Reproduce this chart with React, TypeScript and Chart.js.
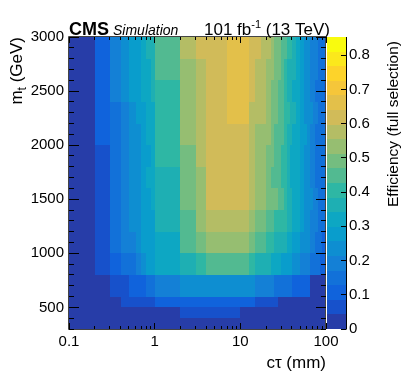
import React, { useEffect, useRef } from 'react';
import { Chart, registerables } from 'chart.js';

Chart.register(...registerables);

const FONT = '"Liberation Sans", Arial, Helvetica, sans-serif';

// ---- binning ----
const ctEdges = [0.1, 0.2, 0.3, 0.4, 0.5, 0.6, 0.7, 0.8, 0.9, 1, 2, 3, 4, 5, 6, 7, 8, 9, 10,
  12.5, 15, 17.5, 20, 22.5, 25, 27.5, 30, 32.5, 35, 37.5, 40, 45, 50, 55, 60, 65, 70, 75, 80, 85, 90, 95, 100];
const massEdges = [300, 400, 500, 600, 800, 1000, 1200, 1400, 1600, 1800, 2000, 2200, 2400, 2600, 2800, 3000];

// ---- ticks ----
const xTickValues = [0.1, 1, 10, 100];
const xTickLabels = ['0.1', '1', '10', '100'];
const xMinorValues = [0.2, 0.3, 0.4, 0.5, 0.6, 0.7, 0.8, 0.9, 2, 3, 4, 5, 6, 7, 8, 9, 20, 30, 40, 50, 60, 70, 80, 90];
const yTickValues = [500, 1000, 1500, 2000, 2500, 3000];
const yTickLabels = ['500', '1000', '1500', '2000', '2500', '3000'];
const zTickValues = [0, 0.1, 0.2, 0.3, 0.4, 0.5, 0.6, 0.7, 0.8];
const zTickLabels = ['0', '0.1', '0.2', '0.3', '0.4', '0.5', '0.6', '0.7', '0.8'];
const zMax = 0.853;
const nContours = 20;

// ---- efficiency per mass row (lower bin edge), one value per cτ bin ----
const eff_m300 = [
  0.01, 0.01, 0.01, 0.01, 0.01, 0.01, 0.01, 0.01, 0.01,
  0.01, 0.01, 0.01, 0.01, 0.01, 0.01, 0.01, 0.01, 0.01,
  0.01, 0.01, 0.01, 0.01, 0.01, 0.01, 0.01, 0.01, 0.01, 0.01, 0.01, 0.01, 0.01, 0.01, 0.01, 0.01, 0.01, 0.01, 0.01, 0.01, 0.01, 0.01, 0.01, 0.01];
const eff_m400 = [
  0.02, 0.02, 0.02, 0.02, 0.02, 0.02, 0.02, 0.02, 0.02,
  0.02, 0.06, 0.06, 0.06, 0.06, 0.06, 0.06, 0.06, 0.06,
  0.02, 0.02, 0.02, 0.02, 0.02, 0.02, 0.02, 0.02, 0.02, 0.02, 0.02, 0.02, 0.02, 0.02, 0.02, 0.02, 0.02, 0.02, 0.02, 0.02, 0.02, 0.02, 0.02, 0.02];
const eff_m500 = [
  0.02, 0.02, 0.02, 0.06, 0.06, 0.06, 0.06, 0.06, 0.06,
  0.11, 0.11, 0.11, 0.11, 0.11, 0.11, 0.11, 0.11, 0.11,
  0.11, 0.11, 0.06, 0.06, 0.06, 0.06, 0.06, 0.02, 0.02, 0.02, 0.02, 0.02, 0.02, 0.02, 0.02, 0.02, 0.02, 0.02, 0.02, 0.02, 0.02, 0.02, 0.02, 0.02];
const eff_m600 = [
  0.02, 0.02, 0.06, 0.06, 0.11, 0.11, 0.11, 0.15, 0.15,
  0.19, 0.23, 0.23, 0.23, 0.23, 0.23, 0.23, 0.23, 0.23,
  0.23, 0.23, 0.19, 0.19, 0.19, 0.19, 0.15, 0.15, 0.15, 0.15, 0.15, 0.15, 0.11, 0.11, 0.11, 0.11, 0.11, 0.02, 0.02, 0.02, 0.02, 0.02, 0.02, 0.02];
const eff_m800 = [
  0.02, 0.06, 0.11, 0.15, 0.15, 0.19, 0.23, 0.28, 0.28,
  0.32, 0.36, 0.40, 0.45, 0.45, 0.45, 0.45, 0.45, 0.45,
  0.45, 0.40, 0.36, 0.36, 0.36, 0.32, 0.32, 0.32, 0.28, 0.28, 0.28, 0.28, 0.23, 0.23, 0.19, 0.19, 0.19, 0.15, 0.15, 0.15, 0.15, 0.11, 0.11, 0.11];
const eff_m1000 = [
  0.02, 0.06, 0.15, 0.19, 0.19, 0.23, 0.28, 0.28, 0.28,
  0.32, 0.45, 0.49, 0.53, 0.53, 0.53, 0.53, 0.53, 0.53,
  0.53, 0.49, 0.45, 0.45, 0.40, 0.40, 0.36, 0.36, 0.36, 0.36, 0.32, 0.32, 0.28, 0.28, 0.23, 0.23, 0.23, 0.19, 0.19, 0.15, 0.15, 0.15, 0.11, 0.11];
const eff_m1200 = [
  0.02, 0.06, 0.15, 0.19, 0.23, 0.23, 0.28, 0.28, 0.28,
  0.36, 0.45, 0.53, 0.58, 0.58, 0.58, 0.58, 0.58, 0.58,
  0.58, 0.53, 0.49, 0.49, 0.45, 0.45, 0.40, 0.40, 0.40, 0.40, 0.36, 0.36, 0.32, 0.32, 0.28, 0.23, 0.23, 0.19, 0.19, 0.19, 0.15, 0.15, 0.15, 0.15];
const eff_m1400 = [
  0.02, 0.06, 0.15, 0.19, 0.23, 0.23, 0.28, 0.28, 0.32,
  0.36, 0.49, 0.53, 0.62, 0.62, 0.62, 0.62, 0.62, 0.62,
  0.62, 0.58, 0.53, 0.53, 0.49, 0.49, 0.49, 0.45, 0.45, 0.40, 0.36, 0.36, 0.32, 0.32, 0.28, 0.23, 0.23, 0.23, 0.19, 0.19, 0.15, 0.15, 0.15, 0.15];
const eff_m1600 = [
  0.02, 0.06, 0.15, 0.19, 0.23, 0.23, 0.28, 0.32, 0.32,
  0.36, 0.49, 0.53, 0.62, 0.62, 0.62, 0.62, 0.62, 0.62,
  0.62, 0.58, 0.53, 0.53, 0.49, 0.45, 0.45, 0.45, 0.40, 0.40, 0.36, 0.32, 0.32, 0.32, 0.28, 0.23, 0.23, 0.19, 0.19, 0.15, 0.15, 0.15, 0.15, 0.15];
const eff_m1800 = [
  0.02, 0.06, 0.15, 0.19, 0.23, 0.23, 0.28, 0.28, 0.32,
  0.40, 0.49, 0.58, 0.62, 0.62, 0.62, 0.62, 0.62, 0.62,
  0.62, 0.58, 0.53, 0.53, 0.49, 0.49, 0.45, 0.45, 0.40, 0.40, 0.36, 0.32, 0.32, 0.32, 0.28, 0.23, 0.23, 0.19, 0.19, 0.15, 0.15, 0.15, 0.15, 0.15];
const eff_m2000 = [
  0.02, 0.11, 0.15, 0.19, 0.23, 0.23, 0.28, 0.32, 0.32,
  0.40, 0.53, 0.58, 0.62, 0.62, 0.62, 0.62, 0.62, 0.62,
  0.62, 0.58, 0.53, 0.53, 0.53, 0.49, 0.45, 0.45, 0.45, 0.40, 0.36, 0.36, 0.32, 0.32, 0.28, 0.28, 0.23, 0.19, 0.19, 0.15, 0.15, 0.15, 0.15, 0.15];
const eff_m2200 = [
  0.02, 0.11, 0.15, 0.19, 0.23, 0.28, 0.28, 0.32, 0.32,
  0.40, 0.53, 0.58, 0.62, 0.62, 0.62, 0.66, 0.66, 0.66,
  0.66, 0.58, 0.58, 0.58, 0.53, 0.49, 0.49, 0.45, 0.45, 0.40, 0.40, 0.36, 0.36, 0.32, 0.28, 0.23, 0.23, 0.23, 0.19, 0.19, 0.15, 0.15, 0.15, 0.15];
const eff_m2400 = [
  0.02, 0.11, 0.19, 0.23, 0.28, 0.28, 0.32, 0.32, 0.36,
  0.40, 0.53, 0.58, 0.62, 0.62, 0.62, 0.66, 0.66, 0.66,
  0.66, 0.62, 0.58, 0.58, 0.53, 0.49, 0.49, 0.45, 0.45, 0.40, 0.36, 0.36, 0.32, 0.32, 0.28, 0.23, 0.23, 0.19, 0.19, 0.15, 0.15, 0.15, 0.15, 0.11];
const eff_m2600 = [
  0.02, 0.11, 0.19, 0.23, 0.28, 0.28, 0.32, 0.32, 0.36,
  0.45, 0.53, 0.58, 0.62, 0.62, 0.62, 0.66, 0.66, 0.66,
  0.66, 0.62, 0.58, 0.58, 0.53, 0.53, 0.49, 0.49, 0.45, 0.40, 0.36, 0.36, 0.36, 0.32, 0.28, 0.23, 0.23, 0.19, 0.19, 0.19, 0.15, 0.15, 0.15, 0.15];
const eff_m2800 = [
  0.02, 0.11, 0.19, 0.23, 0.28, 0.28, 0.32, 0.36, 0.36,
  0.45, 0.58, 0.62, 0.62, 0.62, 0.62, 0.66, 0.66, 0.66,
  0.66, 0.62, 0.62, 0.58, 0.58, 0.53, 0.49, 0.49, 0.45, 0.45, 0.40, 0.40, 0.36, 0.32, 0.28, 0.23, 0.23, 0.19, 0.19, 0.19, 0.15, 0.15, 0.15, 0.15];

const effRows = [eff_m300, eff_m400, eff_m500, eff_m600, eff_m800, eff_m1000, eff_m1200, eff_m1400,
  eff_m1600, eff_m1800, eff_m2000, eff_m2200, eff_m2400, eff_m2600, eff_m2800];

// ---- ROOT kBird palette ----
const birdStops = [0, 0.125, 0.25, 0.375, 0.5, 0.625, 0.75, 0.875, 1];
const birdR = [0.2082, 0.0592, 0.0780, 0.0232, 0.1802, 0.5301, 0.8186, 0.9956, 0.9764];
const birdG = [0.1664, 0.3599, 0.5041, 0.6419, 0.7178, 0.7492, 0.7328, 0.7862, 0.9832];
const birdB = [0.5293, 0.8684, 0.8385, 0.7914, 0.6425, 0.4662, 0.3499, 0.1968, 0.0539];

function birdColor(f: number): string {
  f = Math.max(0, Math.min(1, f));
  let k = 1;
  while (k < birdStops.length - 1 && f > birdStops[k]) k++;
  const t = (f - birdStops[k - 1]) / (birdStops[k] - birdStops[k - 1]);
  const r = Math.round(255 * (birdR[k - 1] + t * (birdR[k] - birdR[k - 1])));
  const g = Math.round(255 * (birdG[k - 1] + t * (birdG[k] - birdG[k - 1])));
  const b = Math.round(255 * (birdB[k - 1] + t * (birdB[k] - birdB[k - 1])));
  return `rgb(${r},${g},${b})`;
}
function levelColor(level: number): string {
  const idx = Math.floor((level + 0.99) * 255 / nContours);
  return birdColor(idx / 254);
}
function valueColor(v: number): string {
  let l = Math.floor(0.01 + v * nContours / zMax);
  l = Math.max(0, Math.min(nContours - 1, l));
  return levelColor(l);
}

const heatPlugin = {
  id: 'heatmap',
  beforeDatasetsDraw(chart: any) {
    const { ctx } = chart;
    const xs = chart.scales.x;
    const ys = chart.scales.y;
    ctx.save();
    effRows.forEach((row, j) => {
      const yTop = Math.round(ys.getPixelForValue(massEdges[j + 1]));
      const yBot = Math.round(ys.getPixelForValue(massEdges[j]));
      row.forEach((v, i) => {
        const xL = Math.round(xs.getPixelForValue(ctEdges[i]));
        const xR = Math.round(xs.getPixelForValue(ctEdges[i + 1]));
        ctx.fillStyle = valueColor(v);
        ctx.fillRect(xL, yTop, xR - xL, yBot - yTop);
      });
    });
    ctx.restore();
  },
  afterDraw(chart: any) {
    const { ctx, chartArea } = chart;
    const xs = chart.scales.x;
    const ys = chart.scales.y;
    const zs = chart.scales.z;
    const L = chartArea.left, R = chartArea.right, T = chartArea.top, B = chartArea.bottom;
    ctx.save();

    // colour bar
    const cbL = R + 1, cbW = 19;
    for (let k = 0; k < nContours; k++) {
      const y0 = Math.round(zs.getPixelForValue((k + 1) * zMax / nContours));
      const y1 = Math.round(zs.getPixelForValue(k * zMax / nContours));
      ctx.fillStyle = levelColor(k);
      ctx.fillRect(cbL, y0, cbW, y1 - y0);
    }
    ctx.strokeStyle = '#000';
    ctx.lineWidth = 1;
    ctx.beginPath();
    ctx.moveTo(cbL + cbW + 0.5, T);
    ctx.lineTo(cbL + cbW + 0.5, B);
    zTickValues.forEach((v) => {
      const py = Math.floor(zs.getPixelForValue(v)) + 0.5;
      ctx.moveTo(cbL + cbW - 5, py);
      ctx.lineTo(cbL + cbW + 0.5, py);
    });
    ctx.stroke();

    // frame
    ctx.strokeStyle = '#444';
    ctx.beginPath();
    ctx.rect(L - 0.5, T - 0.5, R - L, B - T + 1);
    ctx.stroke();

    // ticks
    ctx.strokeStyle = '#000';
    ctx.beginPath();
    const xTick = (v: number, len: number) => {
      const px = Math.floor(xs.getPixelForValue(v)) + 0.5;
      ctx.moveTo(px, B); ctx.lineTo(px, B - len);
      ctx.moveTo(px, T); ctx.lineTo(px, T + len);
    };
    xMinorValues.forEach((v) => xTick(v, 3));
    xTickValues.forEach((v) => xTick(v, 6));
    for (let m = 300; m <= 3000; m += 100) {
      const len = m % 500 === 0 ? 10 : 5;
      const py = Math.floor(ys.getPixelForValue(m)) + 0.5;
      ctx.moveTo(L, py); ctx.lineTo(L + len, py);
      ctx.moveTo(R, py); ctx.lineTo(R - len, py);
    }
    ctx.stroke();

    ctx.fillStyle = '#000';
    ctx.textBaseline = 'alphabetic';
    // CMS Simulation
    ctx.textAlign = 'left';
    ctx.font = `bold 18px ${FONT}`;
    ctx.fillText('CMS', L, 35);
    const wCMS = ctx.measureText('CMS').width;
    ctx.font = `italic 14px ${FONT}`;
    ctx.fillText('Simulation', L + wCMS + 4, 35);

    // lumi text
    ctx.font = `17px ${FONT}`;
    const t1 = '101 fb', t3 = ' (13 TeV)';
    const w1 = ctx.measureText(t1).width;
    const w3 = ctx.measureText(t3).width;
    ctx.font = `11px ${FONT}`;
    const t2 = '-1';
    const w2 = ctx.measureText(t2).width;
    const xEnd = 330;
    const xs0 = xEnd - (w1 + w2 + w3);
    ctx.font = `17px ${FONT}`;
    ctx.fillText(t1, xs0, 35);
    ctx.font = `11px ${FONT}`;
    ctx.fillText(t2, xs0 + w1, 28);
    ctx.font = `17px ${FONT}`;
    ctx.fillText(t3, xs0 + w1 + w2, 35);

    // y title m_t (GeV)
    ctx.save();
    ctx.translate(22, T);
    ctx.rotate(-Math.PI / 2);
    ctx.font = `17px ${FONT}`;
    const wm = ctx.measureText('m').width;
    const wg = ctx.measureText(' (GeV)').width;
    ctx.font = `12px ${FONT}`;
    const wt = ctx.measureText('t').width;
    const x0 = -(wm + wt + wg);
    ctx.font = `17px ${FONT}`;
    ctx.fillText('m', x0, 0);
    ctx.font = `12px ${FONT}`;
    ctx.fillText('t', x0 + wm, 4);
    ctx.font = `17px ${FONT}`;
    ctx.fillText(' (GeV)', x0 + wm + wt, 0);
    ctx.restore();

    // colour bar title
    ctx.save();
    ctx.translate(398, 41);
    ctx.rotate(-Math.PI / 2);
    ctx.textAlign = 'right';
    ctx.font = `15.5px ${FONT}`;
    ctx.fillText('Efficiency (full selection)', 0, 0);
    ctx.restore();

    ctx.restore();
  },
};

export default function App() {
  const ref = useRef<HTMLCanvasElement>(null);
  useEffect(() => {
    document.body.style.margin = '0';
    const canvas = ref.current;
    if (!canvas) return;
    const tickFont = { family: FONT, size: 15 };
    const chart = new Chart(canvas, {
      type: 'scatter',
      data: { datasets: [{ data: [], xAxisID: 'x', yAxisID: 'y' }] },
      options: {
        animation: false,
        responsive: false,
        devicePixelRatio: 1,
        layout: { padding: { top: 37, left: 0, right: 0, bottom: 0 } },
        plugins: { legend: { display: false }, tooltip: { enabled: false } },
        scales: {
          x: {
            type: 'logarithmic',
            position: 'bottom',
            min: 0.1,
            max: 100,
            afterBuildTicks: (s: any) => { s.ticks = xTickValues.map((v) => ({ value: v })); },
            afterFit: (s: any) => { s.height = 46; },
            ticks: {
              callback: (_v: any, i: number) => xTickLabels[i],
              font: tickFont, color: '#000', padding: 4, maxRotation: 0, autoSkip: false,
            },
            grid: { display: false, drawTicks: false },
            border: { display: false },
            title: {
              display: true, text: 'cτ (mm)', align: 'end', color: '#000',
              font: { family: FONT, size: 17 }, padding: { top: 0, bottom: 1 },
            },
          },
          y: {
            type: 'linear',
            position: 'left',
            min: 300,
            max: 3000,
            afterBuildTicks: (s: any) => { s.ticks = yTickValues.map((v) => ({ value: v })); },
            afterFit: (s: any) => { s.width = 69; },
            ticks: {
              callback: (_v: any, i: number) => yTickLabels[i],
              font: tickFont, color: '#000', padding: 5, autoSkip: false,
            },
            grid: { display: false, drawTicks: false },
            border: { display: false },
          },
          z: {
            type: 'linear',
            position: 'right',
            min: 0,
            max: zMax,
            afterBuildTicks: (s: any) => { s.ticks = zTickValues.map((v) => ({ value: v })); },
            afterFit: (s: any) => { s.width = 81; },
            ticks: {
              callback: (_v: any, i: number) => zTickLabels[i],
              font: tickFont, color: '#000', padding: 23, autoSkip: false,
            },
            grid: { display: false, drawTicks: false },
            border: { display: false },
          },
        },
      } as any,
      plugins: [heatPlugin],
    });
    return () => chart.destroy();
  }, []);
  return <canvas ref={ref} width={407} height={375} style={{ display: 'block' }} />;
}
